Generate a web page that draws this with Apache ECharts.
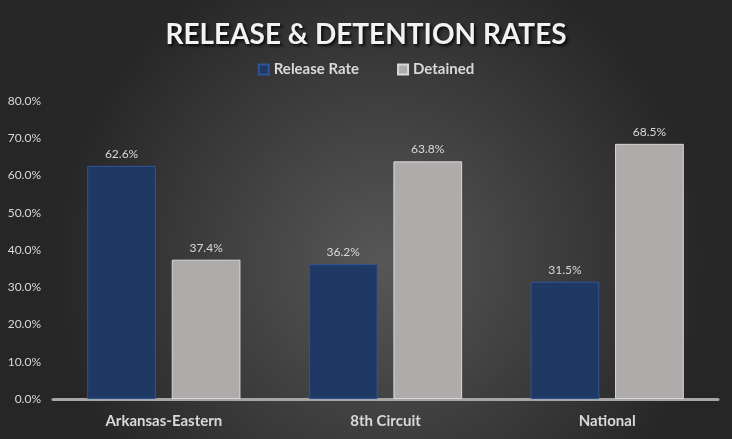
<!DOCTYPE html>
<html>
<head>
<meta charset="utf-8">
<script src="https://cdn.jsdelivr.net/npm/echarts@6/dist/echarts.min.js"></script>
<style>
  html, body { margin: 0; padding: 0; }
  #chart { width: 732px; height: 439px; }
</style>
</head>
<body>
<div id="chart"></div>
<script>
var categories = ['Arkansas-Eastern', '8th Circuit', 'National'];
var releaseRate = [62.6, 36.2, 31.5];
var detained = [37.4, 63.8, 68.5];
var yTicks = { min: 0, max: 80, interval: 10 };

var chart = echarts.init(document.getElementById('chart'));
var font = 'Lato, "Open Sans", sans-serif';
var txt = '#d9d9d9';

var option = {
    backgroundColor: {
        type: 'radial', x: 0.52, y: 0.6, r: 0.75,
        colorStops: [
            { offset: 0, color: '#575757' },
            { offset: 1, color: '#262626' }
        ]
    },
    title: {
        text: 'RELEASE & DETENTION RATES',
        left: 'center',
        top: 16,
        textStyle: {
            color: '#f2f2f2',
            fontFamily: font,
            fontWeight: 'bold',
            fontSize: 28,
            textShadowColor: 'rgba(0,0,0,0.8)',
            textShadowBlur: 3,
            textShadowOffsetX: 2,
            textShadowOffsetY: 2
        }
    },
    legend: {
        top: 57,
        left: 'center',
        itemWidth: 10,
        itemHeight: 10,
        itemGap: 38,
        icon: 'rect',
        textStyle: { color: txt, fontFamily: font, fontWeight: 'bold', fontSize: 15 }
    },
    grid: { left: 53, right: 14, top: 101, bottom: 40 },
    xAxis: {
        type: 'category',
        data: categories,
        axisLine: { lineStyle: { color: '#a6a6a6', width: 3 } },
        axisTick: { show: false },
        axisLabel: { color: txt, fontFamily: font, fontWeight: 'bold', fontSize: 15, margin: 15 }
    },
    yAxis: {
        type: 'value',
        min: yTicks.min,
        max: yTicks.max,
        interval: yTicks.interval,
        splitLine: { show: false },
        axisLine: { show: false },
        axisTick: { show: false },
        axisLabel: {
            color: txt, fontFamily: font, fontSize: 12, margin: 12,
            formatter: function (v) { return v.toFixed(1) + '%'; }
        }
    },
    series: [{
        name: 'Release Rate',
        type: 'bar',
        data: releaseRate,
        barWidth: '31%',
        barGap: '23%',
        itemStyle: { color: '#1f3864', borderColor: '#2f5597', borderWidth: 1 },
        label: {
            show: true, position: 'top', distance: 6,
            color: txt, fontFamily: font, fontSize: 12,
            formatter: function (p) { return p.value.toFixed(1) + '%'; }
        }
    }, {
        name: 'Detained',
        type: 'bar',
        data: detained,
        barWidth: '31%',
        itemStyle: { color: '#afabab', borderColor: '#d9d9d9', borderWidth: 1 },
        label: {
            show: true, position: 'top', distance: 6,
            color: txt, fontFamily: font, fontSize: 12,
            formatter: function (p) { return p.value.toFixed(1) + '%'; }
        }
    }]
};
chart.setOption(option);
</script>
</body>
</html>
